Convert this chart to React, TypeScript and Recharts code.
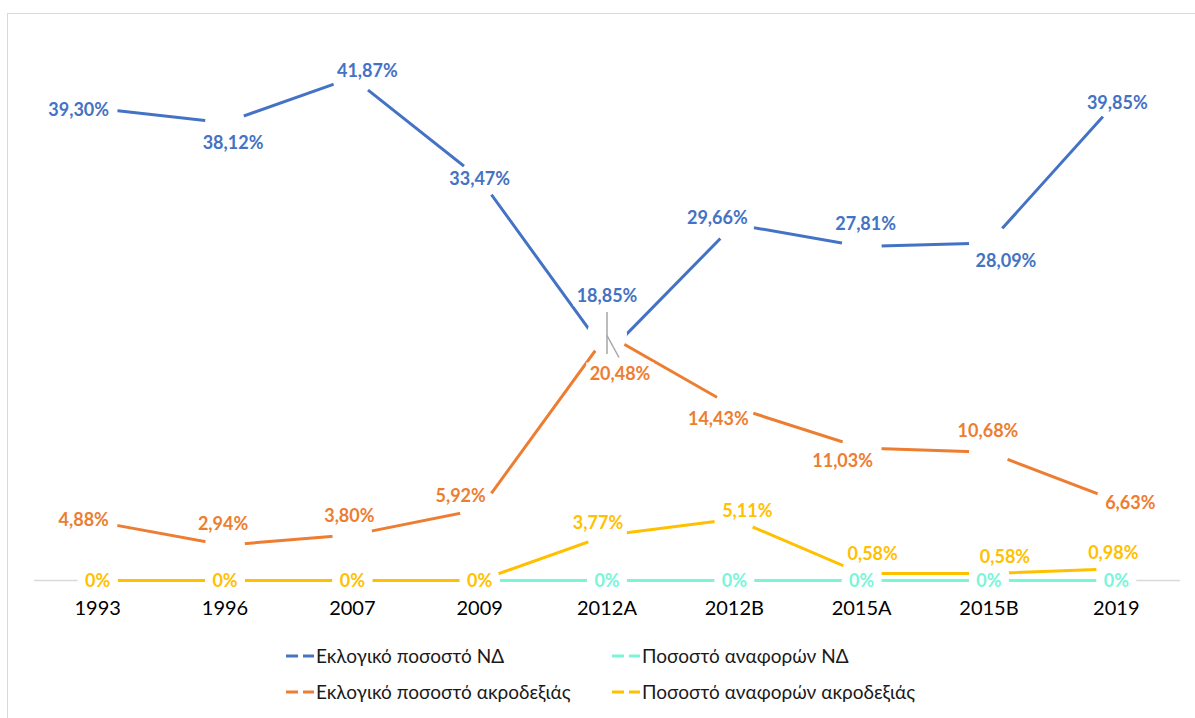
import React from 'react';
import { LineChart, Line, XAxis, YAxis } from 'recharts';

const years = ['1993', '1996', '2007', '2009', '2012A', '2012B', '2015A', '2015B', '2019'];
const ndVote = [39.3, 38.12, 41.87, 33.47, 18.85, 29.66, 27.81, 28.09, 39.85];
const farRightVote = [4.88, 2.94, 3.8, 5.92, 20.48, 14.43, 11.03, 10.68, 6.63];
const ndMentions = [0, 0, 0, 0, 0, 0, 0, 0, 0];
const farRightMentions = [0, 0, 0, 0, 3.77, 5.11, 0.58, 0.58, 0.98];

const data = years.map((year, i) => ({
  year,
  ndVote: ndVote[i],
  farRightVote: farRightVote[i],
  ndMentions: ndMentions[i],
  farRightMentions: farRightMentions[i],
}));

// label nudges (dx, dy) relative to the point, like the hand-moved excel labels
const ndVoteNudge = [[-19, 1], [8, 20], [15, -7], [0, 0], [0, -59], [-17, -7], [4, -23], [17, 17], [1, 1]];
const farRightVoteNudge = [[-14, -2], [-2, -22], [-3, -19], [-19, -14], [13, 39], [-16, 11], [-19, 13], [-1, -22], [14, 2]];
const ndMentionsNudge = years.map(() => [0, 0]);
const farRightMentionsNudge = [[0, 0], [0, 0], [0, 0], [0, 0], [-9, -13], [13, -9], [11, -20], [16, -17], [-3, -16]];

const BLUE = '#4472C4';
const ORANGE = '#ED7D31';
const CYAN = '#7AF5D8';
const YELLOW = '#FFC000';
const AXIS = '#d9d9d9';
const FONT = 'Lato, "Open Sans", sans-serif';
const PAD = 63.7; // half a category, excel puts points between tick marks

const fmt = (v: number) => (v === 0 ? '0%' : `${v.toFixed(2).replace('.', ',')}%`);
const textWidth = (s: string) =>
  s.split('').reduce((w, c) => w + (c === ',' ? 4.6 : c === '%' ? 15.4 : 10.4), 0);

// white halo round each point, so lines break like the excel original;
// the baseline layer also draws the gray axis stubs at both ends (kept under the series)
const makeWhiteout = (radiusAt: (i: number) => number, baseline = false) => (p: any) => (
  <g key={`w-${p.index}`}>
    {baseline && p.index === 0 && (
      <line x1={p.x - PAD} y1={p.y} x2={p.x} y2={p.y} stroke={AXIS} strokeWidth={1.5} />
    )}
    {baseline && p.index === years.length - 1 && (
      <line x1={p.x} y1={p.y} x2={p.x + PAD} y2={p.y} stroke={AXIS} strokeWidth={1.5} />
    )}
    <circle cx={p.x} cy={p.y} r={radiusAt(p.index)} fill="#fff" />
  </g>
);

const makeText = (color: string, nudge: number[][], leader?: 'up' | 'down') => (p: any) => {
  const [dx, dy] = nudge[p.index] || [0, 0];
  const s = fmt(Number(p.value));
  const w = textWidth(s);
  const cx = p.x + dx;
  const cy = p.y + dy;
  return (
    <g key={`t-${p.index}`}>
      <rect x={cx - w / 2 - 3} y={cy - 11} width={w + 6} height={22} fill="#fff" />
      {leader === 'up' && p.index === 4 && (
        <line x1={cx} y1={cy + 17} x2={p.x} y2={p.y} stroke="#a6a6a6" strokeWidth={1.5} />
      )}
      {leader === 'down' && p.index === 4 && (
        <line x1={p.x} y1={p.y + 1} x2={cx - 1} y2={cy - 16} stroke="#a6a6a6" strokeWidth={1.5} />
      )}
      <text x={cx} y={cy} dy="0.36em" textAnchor="middle" fill={color} fontSize={18} fontWeight={700} fontFamily={FONT}>
        {s}
      </text>
    </g>
  );
};

const legendItems = [
  { label: 'Εκλογικό ποσοστό ΝΔ', color: BLUE, left: 286, top: 645 },
  { label: 'Ποσοστό αναφορών ΝΔ', color: CYAN, left: 612, top: 645 },
  { label: 'Εκλογικό ποσοστό ακροδεξιάς', color: ORANGE, left: 286, top: 681 },
  { label: 'Ποσοστό αναφορών ακροδεξιάς', color: YELLOW, left: 612, top: 681 },
];

const LegendKey: React.FC<{ color: string }> = ({ color }) => (
  <svg width={28} height={22} style={{ display: 'block' }}>
    <line x1={0} y1={11} x2={12} y2={11} stroke={color} strokeWidth={3} />
    <line x1={17} y1={11} x2={28} y2={11} stroke={color} strokeWidth={3} />
  </svg>
);

export default function App() {
  return (
    <div style={{ position: 'fixed', left: 0, top: 0, width: 1195, height: 718, overflow: 'hidden', background: '#fff' }}>
      <div
        style={{
          position: 'absolute', left: 7, top: 13, width: 1220, height: 740,
          border: '1px solid #d9d9d9', boxSizing: 'border-box',
        }}
      />
      <div style={{ position: 'absolute', left: 0, top: 0 }}>
        <LineChart width={1195} height={718} data={data} margin={{ top: 40, right: 15, left: 34, bottom: 107.5 }}>
          <XAxis
            dataKey="year"
            height={30}
            padding={{ left: PAD, right: PAD }}
            axisLine={false}
            tickLine={false}
            tickMargin={14}
            tick={{ fill: '#000', fontSize: 20, fontFamily: FONT }}
            interval={0}
          />
          <YAxis hide domain={[0, 45]} />

          <Line dataKey="ndVote" stroke={BLUE} strokeWidth={3} dot={false} isAnimationActive={false} />
          <Line dataKey="farRightVote" stroke={ORANGE} strokeWidth={3} dot={false} isAnimationActive={false} />
          <Line dataKey="ndMentions" stroke={CYAN} strokeWidth={3} dot={false} isAnimationActive={false} />
          <Line dataKey="farRightMentions" stroke={YELLOW} strokeWidth={3} dot={false} isAnimationActive={false} />

          <Line dataKey="ndVote" stroke="none" dot={false} isAnimationActive={false}
            label={makeWhiteout((i) => (i === 4 ? 11 : 20))} />
          <Line dataKey="farRightVote" stroke="none" dot={false} isAnimationActive={false}
            label={makeWhiteout(() => 20)} />
          <Line dataKey="ndMentions" stroke="none" dot={false} isAnimationActive={false}
            label={makeWhiteout(() => 20, true)} />
          <Line dataKey="farRightMentions" stroke="none" dot={false} isAnimationActive={false}
            label={makeWhiteout(() => 20)} />

          <Line dataKey="ndVote" stroke="none" dot={false} isAnimationActive={false}
            label={makeText(BLUE, ndVoteNudge, 'up')} />
          <Line dataKey="farRightVote" stroke="none" dot={false} isAnimationActive={false}
            label={makeText(ORANGE, farRightVoteNudge, 'down')} />
          <Line dataKey="ndMentions" stroke="none" dot={false} isAnimationActive={false}
            label={makeText(CYAN, ndMentionsNudge)} />
          <Line dataKey="farRightMentions" stroke="none" dot={false} isAnimationActive={false}
            label={makeText(YELLOW, farRightMentionsNudge)} />
        </LineChart>
      </div>
      {legendItems.map((it) => (
        <div
          key={it.label}
          style={{
            position: 'absolute', left: it.left, top: it.top, display: 'flex', alignItems: 'center',
            fontFamily: FONT, fontSize: 19, color: '#1a1a1a', whiteSpace: 'nowrap', lineHeight: '22px',
          }}
        >
          <LegendKey color={it.color} />
          <span style={{ marginLeft: 2 }}>{it.label}</span>
        </div>
      ))}
    </div>
  );
}
